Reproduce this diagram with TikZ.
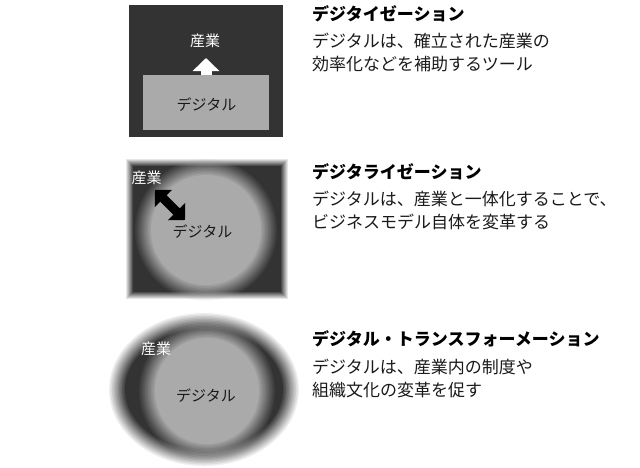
\documentclass[tikz,border=0pt]{standalone}
\usepackage{fontspec}
\setmainfont{Noto Sans CJK JP}
\usetikzlibrary{arrows.meta}
\definecolor{dk}{HTML}{333333}
\definecolor{lg}{HTML}{AAAAAA}
\definecolor{txt}{HTML}{1A1A1A}
\tikzset{
  title/.style={anchor=west, inner sep=0pt, font=\fontsize{17}{20}\selectfont\bfseries, text=black},
  body/.style={anchor=west, inner sep=0pt, font=\fontsize{17}{20}\selectfont, text=txt},
  inlab/.style={inner sep=0pt, font=\fontsize{15}{18}\selectfont},
}
\begin{document}
\begin{tikzpicture}[x=1pt,y=-1pt]
\useasboundingbox (0,0) rectangle (640,467);
% ---------- panel 1 ----------
\node[fill=dk, minimum width=154pt, minimum height=132pt, inner sep=0pt] (ind1) at (206,71) {};
\node[fill=lg, minimum width=126pt, minimum height=55pt, inner sep=0pt] (dig1) at (206,102.5) {};
\node[inlab, text=white] (l1a) at (205,41) {産業};
\node[inlab, text=txt] (l1b) at (206.5,104.5) {デジタル};
\coordinate (tip1) at (206,58);
\draw[white, line width=11pt, -{Triangle[width=26pt,length=13pt]}] (dig1.north) -- (tip1);
% ---------- panel 2 ----------
\foreach \k in {0,...,8}{
  \pgfmathsetmacro\e{4-\k}
  \pgfmathsetmacro\p{\k*12.5}
  \pgfmathsetmacro\xa{128.5-\e}
  \pgfmathsetmacro\ya{161.5-\e}
  \pgfmathsetmacro\xb{284.5+\e}
  \pgfmathsetmacro\yb{295.5+\e}
  \fill[dk!\p!white] (\xa,\ya) rectangle (\xb,\yb);
}
\foreach \k in {1,...,12}{
  \pgfmathsetmacro\r{71-(\k-1)*16/11}
  \pgfmathsetmacro\op{1/(13-\k)}
  \fill[lg, fill opacity=\op] (206,230) circle[radius=\r pt];
}
\node[inlab, text=white] (l2a) at (146.5,178) {産業};
\node[inlab, text=txt] (l2b) at (202.5,231.5) {デジタル};
\coordinate (p2a) at (155,190);
\coordinate (p2b) at (185,220);
\draw[black, line width=9pt, {Triangle[width=24pt,length=12pt]}-{Triangle[width=24pt,length=12pt]}] (p2a) -- (p2b);
% ---------- panel 3 ----------
\foreach \k in {1,...,12}{
  \pgfmathsetmacro\rx{95-(\k-1)*16/11}
  \pgfmathsetmacro\ry{76.5-(\k-1)*16/11}
  \pgfmathsetmacro\op{1/(13-\k)}
  \fill[dk, fill opacity=\op] (204,389.5) ellipse[x radius=\rx pt, y radius=\ry pt];
}
\foreach \k in {1,...,12}{
  \pgfmathsetmacro\rx{68-(\k-1)*16/11}
  \pgfmathsetmacro\ry{69-(\k-1)*16/11}
  \pgfmathsetmacro\op{1/(13-\k)}
  \fill[lg, fill opacity=\op] (207,391) ellipse[x radius=\rx pt, y radius=\ry pt];
}
\node[inlab, text=white] (l3a) at (156,348.5) {産業};
\node[inlab, text=txt] (l3b) at (206,395.5) {デジタル};
% ---------- texts ----------
\node[title] (t1) at (312,14) {デジタイゼーション};
\node[body] (b1a) at (312,41) {デジタルは、確立された産業の};
\node[body] (b1b) at (312,64) {効率化などを補助するツール};
\node[title] (t2) at (312,172) {デジタライゼーション};
\node[body] (b2a) at (312,199) {デジタルは、産業と一体化することで、};
\node[body] (b2b) at (312,222) {ビジネスモデル自体を変革する};
\node[title] (t3) at (312,339) {デジタル・トランスフォーメーション};
\node[body] (b3a) at (312,367) {デジタルは、産業内の制度や};
\node[body] (b3b) at (312,390) {組織文化の変革を促す};
\end{tikzpicture}
\end{document}
